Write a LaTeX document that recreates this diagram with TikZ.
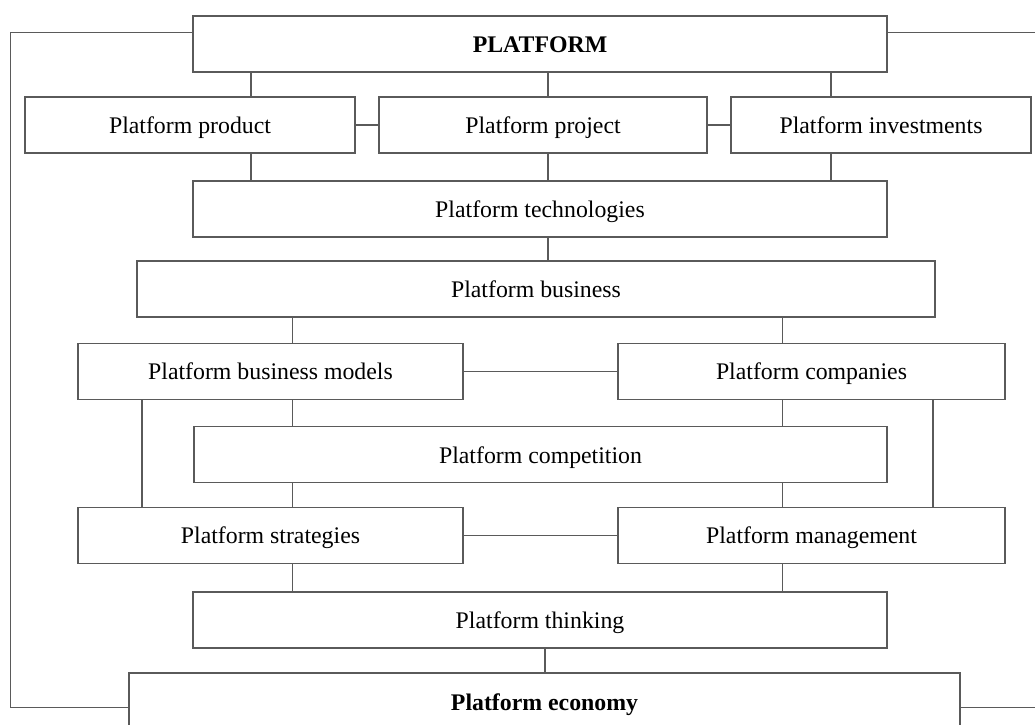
\documentclass[tikz,border=0pt]{standalone}
\usepackage{fontspec}
\setmainfont{Liberation Serif}
\definecolor{lc}{HTML}{5A5A5A}
\tikzset{
  box/.style={draw=lc, line width=1.4pt, fill=white, minimum height=56pt, inner sep=0pt, text height=18pt, text depth=1pt, font=\fontsize{23.8}{28}\selectfont, text=black},
  conn/.style={draw=lc, line width=1.4pt},
  thick conn/.style={draw=lc, line width=2pt},
}
\begin{document}
\begin{tikzpicture}[x=1pt,y=-1pt]
\useasboundingbox (0,0) rectangle (1035,724);
\begin{scope}
\clip (0,0) rectangle (1035,724);
% x positions of connectors
\coordinate (xa) at (251,0);
\coordinate (xb) at (548,0);
\coordinate (xc) at (831,0);
\coordinate (xd) at (292.5,0);
\coordinate (xe) at (782.5,0);
\coordinate (xf) at (141.7,0);
\coordinate (xg) at (933,0);
\coordinate (xh) at (545,0);
\coordinate (ytop) at (0,32.7);
\coordinate (ybot) at (0,707.7);
\coordinate (lft) at (10.5,0);
\coordinate (rgt) at (1040,0);

\node[box, minimum width=694pt] (plat) at (540,44) {\textbf{PLATFORM}};
\node[box, minimum width=330pt] (prod) at (190,125) {Platform product};
\node[box, minimum width=328pt] (proj) at (543,125) {Platform project};
\node[box, minimum width=300pt] (inv) at (881,125) {Platform investments};
\node[box, minimum width=694pt] (tech) at (540,209) {Platform technologies};
\node[box, minimum width=798pt] (bus) at (536,289) {Platform business};
\node[box, minimum width=385pt] (models) at (270.5,371.3) {Platform business models};
\node[box, minimum width=387pt] (comp) at (811.5,371.3) {Platform companies};
\node[box, minimum width=693pt] (compe) at (540.5,454.6) {Platform competition};
\node[box, minimum width=385pt] (strat) at (270.5,535.3) {Platform strategies};
\node[box, minimum width=387pt] (mgmt) at (811.5,535.3) {Platform management};
\node[box, minimum width=694pt] (think) at (540,620) {Platform thinking};
\node[box, minimum width=831pt, minimum height=58pt] (econ) at (544.5,702) {\textbf{Platform economy}};

% connectors
\draw[conn] (plat.south -| xa) -- (prod.north -| xa);
\draw[conn] (prod.south -| xa) -- (tech.north -| xa);
\draw[thick conn] (plat.south -| xb) -- (proj.north -| xb);
\draw[thick conn] (proj.south -| xb) -- (tech.north -| xb);
\draw[conn] (plat.south -| xc) -- (inv.north -| xc);
\draw[conn] (inv.south -| xc) -- (tech.north -| xc);
\draw[conn] (prod.east) -- (proj.west);
\draw[conn] (proj.east) -- (inv.west);
\draw[thick conn] (tech.south -| xb) -- (bus.north -| xb);

\draw[conn] (bus.south -| xd) -- (models.north -| xd);
\draw[conn] (bus.south -| xe) -- (comp.north -| xe);
\draw[conn] (models.east) -- (comp.west);
\draw[conn] (models.south -| xd) -- (compe.north -| xd);
\draw[conn] (comp.south -| xe) -- (compe.north -| xe);
\draw[conn] (compe.south -| xd) -- (strat.north -| xd);
\draw[conn] (compe.south -| xe) -- (mgmt.north -| xe);
\draw[thick conn] (models.south -| xf) -- (strat.north -| xf);
\draw[conn] (comp.south -| xg) -- (mgmt.north -| xg);
\draw[conn] (strat.east) -- (mgmt.west);
\draw[conn] (strat.south -| xd) -- (think.north -| xd);
\draw[conn] (mgmt.south -| xe) -- (think.north -| xe);
\draw[thick conn] (think.south -| xh) -- (econ.north -| xh);

% feedback lines
\draw[conn] (plat.west |- ytop) -- (lft |- ytop) -- (lft |- ybot) -- (econ.west |- ybot);
\draw[conn] (plat.east |- ytop) -- (rgt |- ytop);
\draw[conn] (econ.east |- ybot) -- (rgt |- ybot);
\end{scope}
\end{tikzpicture}
\end{document}
